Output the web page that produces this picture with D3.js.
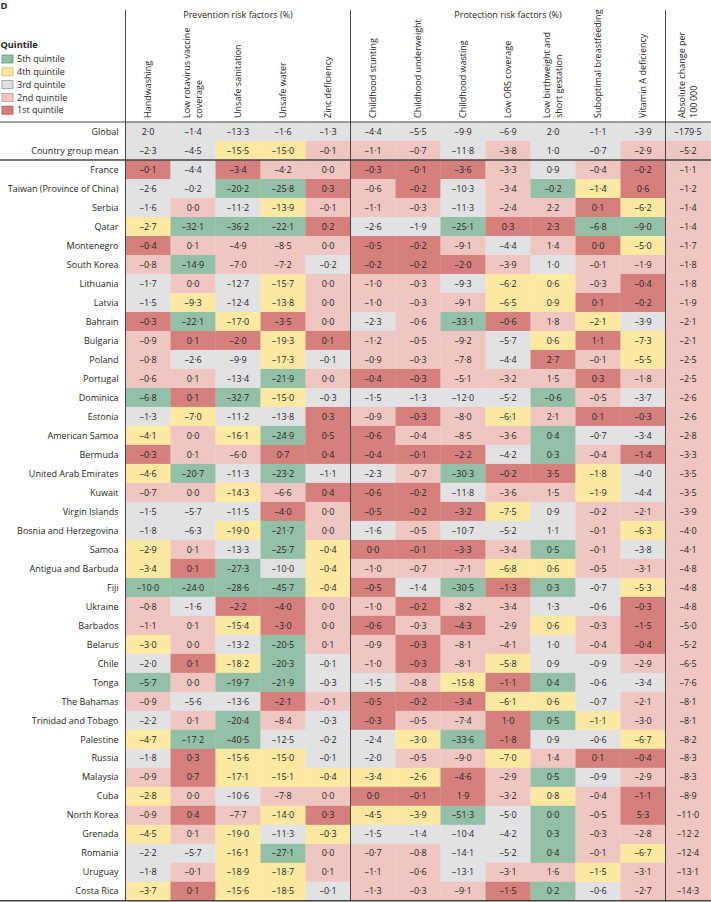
<!DOCTYPE html>
<html><head><meta charset="utf-8">
<script src="https://cdn.jsdelivr.net/npm/d3@7"></script>
<style>
body{margin:0;background:#fff}
svg{display:block}
text{font-family:"Open Sans", "Noto Sans", sans-serif; fill:#262626}
</style>
</head><body>
<svg id="chart" width="711" height="902"></svg>
<script>
// ---------------- DATA ----------------
const rowLabels = ["Country group mean","France","Taiwan (Province of China)","Serbia","Qatar","Montenegro","South Korea","Lithuania","Latvia","Bahrain","Bulgaria","Poland","Portugal","Dominica","Estonia","American Samoa","Bermuda","United Arab Emirates","Kuwait","Virgin Islands","Bosnia and Herzegovina","Samoa","Antigua and Barbuda","Fiji","Ukraine","Barbados","Belarus","Chile","Tonga","The Bahamas","Trinidad and Tobago","Palestine","Russia","Malaysia","Cuba","North Korea","Grenada","Romania","Uruguay","Costa Rica"];

const columnLabels = [["Handwashing"],["Low rotavirus vaccine","coverage"],["Unsafe sanitation"],["Unsafe water"],["Zinc deficiency"],["Childhood stunting"],["Childhood underweight"],["Childhood wasting"],["Low ORS coverage"],["Low birthweight and","short gestation"],["Suboptimal breastfeeding"],["Vitamin A deficiency"],["Absolute change per","100\u2009000"]];

const groupLabels = ["Prevention risk factors (%)","Protection risk factors (%)"];
const groupSizes = [5, 7];

const globalValues = [2.0,-1.4,-13.3,-1.6,-1.3,-4.4,-5.5,-9.9,-6.9,2.0,-1.1,-3.9,-179.5];

const handwashing = [-2.3,-0.1,-2.6,-1.6,-2.7,-0.4,-0.8,-1.7,-1.5,-0.3,-0.9,-0.8,-0.6,-6.8,-1.3,-4.1,-0.3,-4.6,-0.7,-1.5,-1.8,-2.9,-3.4,-10.0,-0.8,-1.1,-3.0,-2.0,-5.7,-0.9,-2.2,-4.7,-1.8,-0.9,-2.8,-0.9,-4.5,-2.2,-1.8,-3.7];
const handwashingQ = [3,1,3,3,4,1,2,3,3,1,2,2,2,5,3,4,1,4,2,3,3,4,4,5,2,2,4,3,5,2,3,4,3,2,4,2,4,3,3,4];

const rotavirus = [-4.5,-4.4,-0.2,0.0,-32.1,0.1,-14.9,0.0,-9.3,-22.1,0.1,-2.6,0.1,0.1,-7.0,0.0,0.1,-20.7,0.0,-5.7,-6.3,0.1,0.1,-24.0,-1.6,0.1,0.0,0.1,0.0,-5.6,0.1,-17.2,0.3,0.7,0.0,0.4,0.1,-5.7,-0.1,0.1];
const rotavirusQ = [3,3,3,2,5,2,5,2,4,5,1,3,2,1,4,2,2,5,2,3,3,2,1,5,3,2,2,1,2,3,2,5,1,1,2,1,2,3,2,1];

const sanitation = [-15.5,-3.4,-20.2,-11.2,-36.2,-4.9,-7.0,-12.7,-12.4,-17.0,-2.0,-9.9,-13.4,-32.7,-11.2,-16.1,-6.0,-11.3,-14.3,-11.5,-19.0,-13.3,-27.3,-28.6,-2.2,-15.4,-13.2,-18.2,-19.7,-13.6,-20.4,-40.5,-15.6,-17.1,-10.6,-7.7,-19.0,-16.1,-18.9,-15.6];
const sanitationQ = [4,1,5,3,5,2,2,3,3,4,1,3,3,5,3,4,2,3,4,3,4,3,5,5,1,4,3,4,5,3,5,5,4,4,3,2,4,4,4,4];

const water = [-15.0,-4.2,-25.8,-13.9,-22.1,-8.5,-7.2,-15.7,-13.8,-3.5,-19.3,-17.3,-21.9,-15.0,-13.8,-24.9,0.7,-23.2,-6.6,-4.0,-21.7,-25.7,-10.0,-45.7,-4.0,-3.0,-20.5,-20.3,-21.9,-2.1,-8.4,-12.5,-15.0,-15.1,-7.8,-14.0,-11.3,-27.1,-18.7,-18.5];
const waterQ = [4,2,5,4,5,2,2,4,4,1,4,4,5,4,3,5,1,5,2,1,5,5,3,5,1,1,5,5,5,1,2,3,4,4,2,4,3,5,4,4];

const zinc = [-0.1,0.0,0.3,-0.1,0.2,0.0,-0.2,0.0,0.0,0.0,0.1,-0.1,0.0,-0.3,0.3,0.5,0.4,-1.1,0.4,0.0,0.0,-0.4,-0.4,-0.4,0.0,0.0,0.1,-0.1,-0.3,-0.1,-0.3,-0.2,-0.1,-0.4,0.0,0.3,-0.3,0.0,0.1,-0.1];
const zincQ = [2,2,1,2,1,2,3,2,2,2,1,3,2,3,1,1,1,3,1,2,2,4,4,4,2,2,2,3,3,2,3,3,3,4,2,1,4,2,2,3];

const stunting = [-1.1,-0.3,-0.6,-1.1,-2.6,-0.5,-0.2,-1.0,-1.0,-2.3,-1.2,-0.9,-0.4,-1.5,-0.9,-0.6,-0.4,-2.3,-0.6,-0.5,-1.6,0.0,-1.0,-0.5,-1.0,-0.6,-0.9,-1.0,-1.5,-0.5,-0.3,-2.4,-2.0,-3.4,0.0,-4.5,-1.5,-0.7,-1.1,-1.3];
const stuntingQ = [2,1,2,2,3,1,1,2,2,3,2,2,1,3,2,1,1,3,1,1,3,1,2,1,2,1,2,2,3,1,1,3,3,4,1,4,3,2,2,2];

const underweight = [-0.7,-0.1,-0.2,-0.3,-1.9,-0.2,-0.2,-0.3,-0.3,-0.6,-0.5,-0.3,-0.3,-1.3,-0.3,-0.4,-0.1,-0.7,-0.2,-0.2,-0.5,-0.1,-0.7,-1.4,-0.2,-0.3,-0.3,-0.3,-0.8,-0.2,-0.5,-3.0,-0.5,-2.6,-0.1,-3.9,-1.4,-0.8,-0.6,-0.3];
const underweightQ = [2,1,1,2,3,1,1,2,2,2,2,2,1,3,1,2,1,2,1,1,2,1,2,3,1,2,1,1,2,1,2,4,2,4,1,4,3,2,2,2];

const wasting = [-11.8,-3.6,-10.3,-11.3,-25.1,-9.1,-2.0,-9.3,-9.1,-33.1,-9.2,-7.8,-5.1,-12.0,-8.0,-8.5,-2.2,-30.3,-11.8,-3.2,-10.7,-3.3,-7.1,-30.5,-8.2,-4.3,-8.1,-8.1,-15.8,-3.4,-7.4,-33.6,-9.0,-4.6,1.9,-51.3,-10.4,-14.1,-13.1,-9.1];
const wastingQ = [3,1,3,3,5,2,1,3,2,5,2,2,2,3,2,2,1,5,3,1,3,1,2,5,2,1,2,2,4,1,2,5,2,1,1,5,3,3,3,2];

const ors = [-3.8,-3.3,-3.4,-2.4,0.3,-4.4,-3.9,-6.2,-6.5,-0.6,-5.7,-4.4,-3.2,-5.2,-6.1,-3.6,-4.2,-0.2,-3.6,-7.5,-5.2,-3.4,-6.8,-1.3,-3.4,-2.9,-4.1,-5.8,-1.1,-6.1,1.0,-1.8,-7.0,-2.9,-3.2,-5.0,-4.2,-5.2,-3.1,-1.5];
const orsQ = [2,2,2,2,1,3,2,4,4,1,3,3,2,3,4,2,3,1,2,4,3,2,4,1,2,2,2,4,1,4,1,1,4,2,2,3,3,3,2,1];

const birthweight = [1.0,0.9,-0.2,2.2,2.3,1.4,1.0,0.6,0.9,1.8,0.6,2.7,1.5,-0.6,2.1,0.4,0.3,3.5,1.5,0.9,1.1,0.5,0.6,0.3,1.3,0.6,1.0,0.9,0.4,0.6,0.5,0.9,1.4,0.5,0.8,0.0,0.3,0.4,1.6,0.2];
const birthweightQ = [3,3,5,2,1,2,3,4,4,2,4,1,2,5,2,5,5,1,2,3,3,5,4,5,3,4,3,3,5,4,5,3,2,5,4,5,5,5,2,5];

const breastfeeding = [-0.7,-0.4,-1.4,0.1,-6.8,0.0,-0.1,-0.3,0.1,-2.1,1.1,-0.1,0.3,-0.5,0.1,-0.7,-0.4,-1.8,-1.9,-0.2,-0.1,-0.1,-0.5,-0.7,-0.6,-0.3,-0.4,-0.9,-0.6,-0.7,-1.1,-0.6,0.1,-0.9,-0.4,-0.5,-0.3,-0.1,-1.5,-0.6];
const breastfeedingQ = [3,2,4,1,5,1,2,2,1,4,1,2,1,2,1,3,2,4,4,2,2,2,2,3,3,2,2,3,3,3,4,3,1,3,2,2,2,2,4,3];

const vitaminA = [-2.9,-0.2,0.6,-6.2,-9.0,-5.0,-1.9,-0.4,-0.2,-3.9,-7.3,-5.5,-1.8,-3.7,-0.3,-3.4,-1.4,-4.0,-4.4,-2.1,-6.3,-3.8,-3.1,-5.3,-0.3,-1.5,-0.4,-2.9,-3.4,-2.1,-3.0,-6.7,-0.4,-2.9,-1.1,5.3,-2.8,-6.7,-3.1,-2.7];
const vitaminAQ = [2,1,1,4,5,4,2,1,1,3,4,4,2,3,1,3,1,3,3,2,4,3,2,4,1,1,1,2,3,2,2,4,1,2,1,1,2,4,2,2];

const absoluteChange = [-5.2,-1.1,-1.2,-1.4,-1.4,-1.7,-1.8,-1.8,-1.9,-2.1,-2.1,-2.5,-2.5,-2.6,-2.6,-2.8,-3.3,-3.5,-3.5,-3.9,-4.0,-4.1,-4.8,-4.8,-4.8,-5.0,-5.2,-6.5,-7.6,-8.1,-8.1,-8.2,-8.3,-8.3,-8.9,-11.0,-12.2,-12.4,-13.1,-14.3];

const quintileLabels = ["5th quintile","4th quintile","3rd quintile","2nd quintile","1st quintile"];
const quintileCodes = [5,4,3,2,1];

// ---------------- STYLE ----------------
const qFill = {5:"#93c0a6",4:"#fde9a2",3:"#e2e2e4",2:"#efc6c2",1:"#d5807c"};
const qStroke = {5:"#5e9476",4:"#c9b564",3:"#9a9a9c",2:"#c09692",1:"#a85652"};
const globalFill = "#e2e2e4";
const absFill = "#efc6c2";
const lineColor = "#444";

const valueCols = [handwashing,rotavirus,sanitation,water,zinc,stunting,underweight,wasting,ors,birthweight,breastfeeding,vitaminA,absoluteChange];
const quintCols = [handwashingQ,rotavirusQ,sanitationQ,waterQ,zincQ,stuntingQ,underweightQ,wastingQ,orsQ,birthweightQ,breastfeedingQ,vitaminAQ,null];

const colKeys = columnLabels.map(d => d.join(" "));
const rowKeys = ["Global", ...rowLabels];

const svg = d3.select("#chart");

// font size calibrated so that the longest row label spans ~111px as in the reference
const probe = svg.append("text").attr("font-size", 10).text("Taiwan (Province of China)");
const FS = Math.max(9, Math.min(12, 10 * 111 / probe.node().getComputedTextLength()));
probe.remove();

const x = d3.scaleBand().domain(colKeys).range([125.5, 710.5]);
const y = d3.scaleBand().domain(rowKeys).range([122, 900.8]);

const fmt = v => (v < 0 ? "\u2013" : "") + d3.format(".1f")(Math.abs(v)).replace(".", "\u00b7");

// cells
const cells = [];
rowKeys.forEach((r, ri) => {
  colKeys.forEach((c, ci) => {
    let v, fill;
    if (ri === 0) { v = globalValues[ci]; fill = globalFill; }
    else {
      v = valueCols[ci][ri - 1];
      fill = quintCols[ci] ? qFill[quintCols[ci][ri - 1]] : absFill;
    }
    cells.push({r, c, v, fill});
  });
});

svg.append("g").selectAll("rect").data(cells).join("rect")
  .attr("x", d => x(d.c)).attr("y", d => y(d.r))
  .attr("width", x.bandwidth() + 0.3).attr("height", y.bandwidth() + 0.3)
  .attr("fill", d => d.fill);

svg.append("g").selectAll("text").data(cells).join("text")
  .attr("x", d => x(d.c) + x.bandwidth() / 2)
  .attr("y", d => y(d.r) + y.bandwidth() / 2)
  .attr("dy", "0.35em")
  .attr("text-anchor", "middle")
  .attr("font-size", FS)
  .text(d => fmt(d.v));

// row labels
svg.append("g").selectAll("text").data(rowKeys).join("text")
  .attr("x", 118.5)
  .attr("y", d => y(d) + y.bandwidth() / 2)
  .attr("dy", "0.35em")
  .attr("text-anchor", "end")
  .attr("font-size", FS)
  .text(d => d);

// column header labels (rotated)
const colHeads = svg.append("g").selectAll("g").data(columnLabels).join("g")
  .attr("transform", (d, i) => `translate(${x(colKeys[i]) + x.bandwidth() / 2},118) rotate(-90)`);
colHeads.selectAll("text").data(d => d.map((t, k) => ({t, k, n: d.length}))).join("text")
  .attr("x", 0)
  .attr("y", d => (d.k - (d.n - 1) / 2) * 12.5)
  .attr("dy", "0.35em")
  .attr("font-size", FS)
  .text(d => d.t);

// group labels
let start = 0;
groupLabels.forEach((g, i) => {
  const x0 = x(colKeys[start]);
  const x1 = x(colKeys[start + groupSizes[i] - 1]) + x.bandwidth();
  svg.append("text").attr("x", (x0 + x1) / 2).attr("y", 18)
    .attr("text-anchor", "middle").attr("font-size", FS).text(g);
  start += groupSizes[i];
});

// panel letter
svg.append("text").attr("x", 0.5).attr("y", 9).attr("font-size", FS * 1.05)
  .attr("font-weight", "bold").text("D");

// legend
svg.append("text").attr("x", 0.5).attr("y", 48).attr("font-size", FS * 1.02)
  .attr("font-weight", "bold").text("Quintile");
const leg = svg.append("g").selectAll("g").data(quintileCodes).join("g")
  .attr("transform", (d, i) => `translate(0,${59 + i * 12.8})`);
leg.append("rect").attr("x", 2).attr("y", -4).attr("width", 11).attr("height", 8)
  .attr("fill", d => qFill[d]).attr("stroke", d => qStroke[d]).attr("stroke-width", 0.8);
leg.append("text").attr("x", 17).attr("y", 0).attr("dy", "0.35em")
  .attr("font-size", FS).text((d, i) => quintileLabels[i]);

// lines
const hline = (yy, w) => svg.append("line").attr("x1", 0).attr("x2", 711)
  .attr("y1", yy).attr("y2", yy).attr("stroke", lineColor).attr("stroke-width", w);
hline(y("Global"), 1);
hline(y(rowLabels[1]), 1.6);
hline(y(rowLabels[rowLabels.length - 1]) + y.bandwidth(), 1.4);

const vx = [x(colKeys[0]), x(colKeys[5]), x(colKeys[12])];
vx.forEach(v => svg.append("line").attr("x1", v).attr("x2", v)
  .attr("y1", 10).attr("y2", y(rowLabels[rowLabels.length - 1]) + y.bandwidth())
  .attr("stroke", lineColor).attr("stroke-width", 1));
</script>
</body></html>
